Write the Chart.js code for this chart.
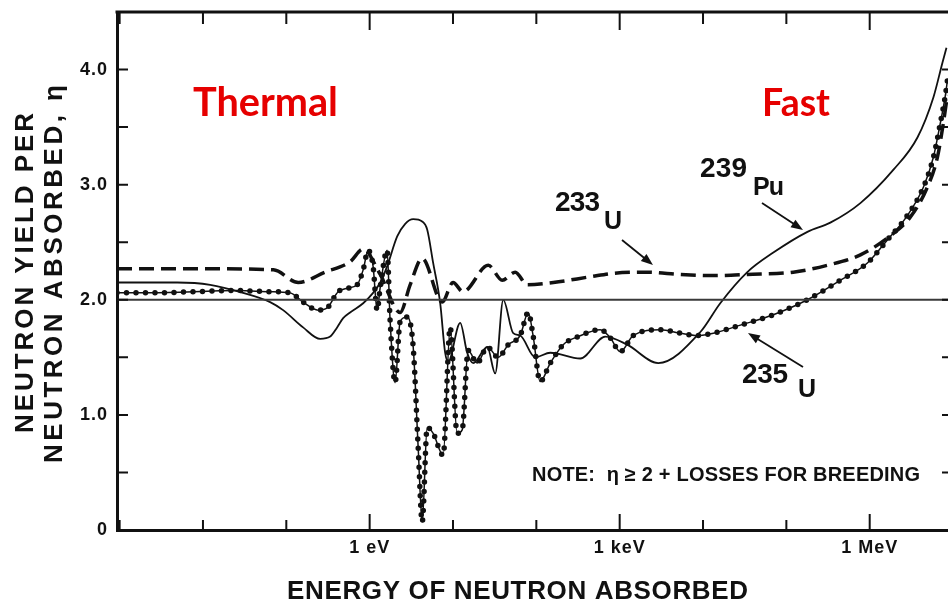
<!DOCTYPE html>
<html>
<head>
<meta charset="utf-8">
<script src="https://cdn.jsdelivr.net/npm/chart.js@4.4.1/dist/chart.umd.min.js"></script>
<style>
  html, body { margin: 0; padding: 0; background: #fff; overflow: hidden; }
  #wrap { position: relative; width: 948px; height: 608px; }
</style>
</head>
<body>
<div id="wrap"><canvas id="etaChart"></canvas></div>
<script>
(function () {
    // neutron energy in eV, eta = neutrons released per neutron absorbed
    var energyU233 = [9.3e-4, 9.2e-3, 0.070, 0.139, 0.292, 0.583, 0.836, 1.34, 2.32, 3.06, 4.27, 7.41, 10.0, 13.2,
        26.5, 39, 55.8, 77.8, 160, 444, 837, 2140, 5330, 13300, 34000, 121000, 310000, 773000,
        1.72e6, 3.08e6, 4.93e6, 6.5e6, 7.67e6, 8.57e6];
    var etaU233 = [2.27, 2.27, 2.26, 2.15, 2.24, 2.33, 2.44, 2.22, 1.89, 2.13, 2.36, 1.98, 2.15, 2.07,
        2.30, 2.17, 2.24, 2.13, 2.15, 2.20, 2.23, 2.24, 2.22, 2.21, 2.22, 2.24, 2.30, 2.39,
        2.55, 2.72, 2.98, 3.24, 3.54, 3.78];

    var energyPu239 = [9.3e-4, 4.9e-3, 0.0122, 0.0303, 0.064, 0.0916, 0.159, 0.255, 0.336, 0.407, 0.481, 0.583,
        0.836, 1.10, 1.34, 1.62, 2.14, 2.67, 3.33, 4.27, 4.90, 5.78, 7.02, 8.05, 8.75, 12.2, 14.8, 17.5,
        25.8, 32.1, 40.1, 52.8, 64.1, 97, 147, 337, 671, 1230, 2900, 9290, 16100, 34000, 69800,
        179000, 337000, 773000, 1.93e6, 3.74e6, 5.82e6, 7.46e6, 8.34e6];
    var etaPu239 = [2.15, 2.15, 2.13, 2.06, 1.98, 1.91, 1.76, 1.66, 1.68, 1.76, 1.84, 1.89,
        1.97, 2.06, 2.15, 2.29, 2.55, 2.66, 2.70, 2.68, 2.61, 2.32, 1.97, 1.54, 1.46, 1.80, 1.54, 1.45,
        1.59, 1.36, 2.00, 1.71, 1.69, 1.50, 1.54, 1.49, 1.68, 1.61, 1.45, 1.72, 1.97, 2.24, 2.41,
        2.59, 2.67, 2.84, 3.13, 3.41, 3.76, 4.06, 4.19];

    var energyU235 = [9.3e-4, 2.3e-3, 0.026, 0.064, 0.111, 0.159, 0.241, 0.309, 0.419, 0.537, 0.708, 0.836,
        0.959, 1.10, 1.23, 1.34, 1.62, 1.76, 2.02, 2.32, 2.82, 3.33, 3.82, 4.27, 4.90, 5.78, 7.62, 9.25,
        11.2, 12.9, 15.2, 19.5, 25.8, 34.9, 46.0, 64.1, 80.0, 91.8, 111, 147, 210, 318, 585, 771,
        1016, 1456, 3070, 5330, 8550, 13300, 28100, 69800, 179000, 445000, 938000, 1.63e6, 2.76e6,
        4.42e6, 5.82e6, 7.06e6, 8.11e6, 8.57e6];
    var etaU235 = [2.06, 2.06, 2.08, 2.07, 2.06, 1.98, 1.91, 1.93, 2.07, 2.10, 2.13, 2.26,
        2.43, 2.29, 1.91, 2.11, 2.43, 1.82, 1.28, 1.81, 1.85, 1.59, 0.72, 0.07, 0.89, 0.84, 0.65, 1.76,
        0.84, 0.87, 1.56, 1.45, 1.59, 1.50, 1.61, 1.69, 1.89, 1.68, 1.29, 1.45, 1.61, 1.68, 1.74, 1.67,
        1.55, 1.69, 1.74, 1.71, 1.69, 1.71, 1.78, 1.87, 2.00, 2.17, 2.32, 2.52, 2.72,
        2.98, 3.24, 3.54, 3.78, 3.91];

    var breedingEta = 2.0;
    var decadeTicks = [1e-3, 1e-2, 1e-1, 1, 10, 100, 1e3, 1e4, 1e5, 1e6];
    var namedTicks = [1, 1e3, 1e6];
    var namedTickLabels = ['1 eV', '1 keV', '1 MeV'];

    var energyMin = 9.3e-4, energyMax = 8.7e6;
    var helv = "'Liberation Sans', Arial, sans-serif";

    function points(xs, ys) {
        return xs.map(function (x, i) { return { x: x, y: ys[i] }; });
    }

    function spacedText(ctx, text, left, baseline, size, width, color) {
        ctx.font = 'bold ' + size + 'px ' + helv;
        ctx.letterSpacing = '0px';
        var natural = ctx.measureText(text).width;
        var n = Array.from(text).length;
        var gap = n > 1 ? (width - natural) / (n - 1) : 0;
        ctx.letterSpacing = gap + 'px';
        ctx.fillStyle = color || '#111';
        ctx.textAlign = 'left';
        ctx.textBaseline = 'alphabetic';
        ctx.fillText(text, left, baseline);
        ctx.letterSpacing = '0px';
    }

    function fitText(ctx, text, left, baseline, width, color) {
        var fam = "Lato, 'Open Sans', sans-serif";
        ctx.font = 'bold 40px ' + fam;
        var size = 40 * width / ctx.measureText(text).width;
        ctx.font = 'bold ' + size + 'px ' + fam;
        ctx.fillStyle = color;
        ctx.textAlign = 'left';
        ctx.textBaseline = 'alphabetic';
        ctx.fillText(text, left, baseline);
    }

    function arrow(ctx, x1, y1, x2, y2) {
        var a = Math.atan2(y2 - y1, x2 - x1);
        ctx.strokeStyle = '#111';
        ctx.fillStyle = '#111';
        ctx.lineWidth = 1.8;
        ctx.beginPath();
        ctx.moveTo(x1, y1);
        ctx.lineTo(x2 - 8 * Math.cos(a), y2 - 8 * Math.sin(a));
        ctx.stroke();
        ctx.beginPath();
        ctx.moveTo(x2, y2);
        ctx.lineTo(x2 - 12 * Math.cos(a) + 4.5 * Math.sin(a), y2 - 12 * Math.sin(a) - 4.5 * Math.cos(a));
        ctx.lineTo(x2 - 12 * Math.cos(a) - 4.5 * Math.sin(a), y2 - 12 * Math.sin(a) + 4.5 * Math.cos(a));
        ctx.closePath();
        ctx.fill();
    }

    var decor = {
        id: 'decor',
        beforeDraw: function (chart) { chart.ctx.letterSpacing = '1px'; },
        beforeDatasetsDraw: function (chart) { chart.ctx.letterSpacing = '0px'; },
        afterDraw: function (chart) {
            var ctx = chart.ctx;
            var area = chart.chartArea;
            var xs = chart.scales.x, ys = chart.scales.y;
            ctx.save();
            ctx.letterSpacing = '0px';
            ctx.strokeStyle = '#111';

            // top frame line
            ctx.lineWidth = 3;
            ctx.beginPath();
            ctx.moveTo(area.left - 1.5, area.top);
            ctx.lineTo(area.right, area.top);
            ctx.stroke();

            // inward tick marks
            ctx.lineWidth = 2;
            decadeTicks.forEach(function (v) {
                var px = xs.getPixelForValue(v);
                var major = namedTicks.indexOf(v) >= 0;
                ctx.beginPath();
                ctx.moveTo(px, area.bottom);
                ctx.lineTo(px, area.bottom - (major ? 16 : 10));
                ctx.moveTo(px, area.top);
                ctx.lineTo(px, area.top + (major ? 18 : 12));
                ctx.stroke();
            });
            for (var v = 0.5; v <= 4.0; v += 0.5) {
                var py = ys.getPixelForValue(v);
                ctx.beginPath();
                ctx.moveTo(area.left, py);
                ctx.lineTo(area.left + 11, py);
                ctx.moveTo(area.right, py);
                ctx.lineTo(area.right - 6, py);
                ctx.stroke();
            }

            // axis titles
            ctx.save();
            ctx.translate(33, 273);
            ctx.rotate(-Math.PI / 2);
            spacedText(ctx, 'NEUTRON YIELD PER', -160, 0, 26, 320);
            ctx.restore();
            ctx.save();
            ctx.translate(62, 274);
            ctx.rotate(-Math.PI / 2);
            spacedText(ctx, 'NEUTRON ABSORBED, η', -189, 0, 26, 378);
            ctx.restore();
            spacedText(ctx, 'ENERGY OF NEUTRON ABSORBED', 287, 599, 26, 461);

            // note and curve labels
            spacedText(ctx, 'NOTE:  η ≥ 2 + LOSSES FOR BREEDING', 532, 481, 20, 388);
            spacedText(ctx, '233', 555, 211, 28, 45);
            spacedText(ctx, 'U', 604, 229, 25, 18);
            spacedText(ctx, '239', 700, 177, 28, 47);
            spacedText(ctx, 'Pu', 753, 195, 25, 31);
            spacedText(ctx, '235', 742, 383, 28, 46);
            spacedText(ctx, 'U', 798, 397, 25, 17);
            arrow(ctx, 622, 240, 653, 265);
            arrow(ctx, 762, 203, 803, 230);
            arrow(ctx, 803, 367, 748, 333);

            fitText(ctx, 'Thermal', 193, 116, 145, '#e60000');
            fitText(ctx, 'Fast', 762, 116, 68, '#e60000');
            ctx.restore();
        }
    };

    var ctx = document.getElementById('etaChart').getContext('2d');
    new Chart(ctx, {
        type: 'line',
        data: {
            datasets: [
                {
                    label: 'eta = 2',
                    data: [{ x: energyMin, y: breedingEta }, { x: energyMax, y: breedingEta }],
                    borderColor: '#3a3a3a', borderWidth: 2, pointRadius: 0
                },
                {
                    label: '233U',
                    data: points(energyU233, etaU233),
                    borderColor: '#111', borderWidth: 3.5, borderDash: [15, 7],
                    pointRadius: 0, cubicInterpolationMode: 'monotone'
                },
                {
                    label: '239Pu',
                    data: points(energyPu239, etaPu239),
                    borderColor: '#111', borderWidth: 1.8,
                    pointRadius: 0, cubicInterpolationMode: 'monotone'
                },
                {
                    label: '235U',
                    data: points(energyU235, etaU235),
                    borderColor: '#111', borderWidth: 1.5,
                    pointRadius: 0, cubicInterpolationMode: 'monotone'
                },
                {
                    label: '235U beads',
                    data: points(energyU235, etaU235),
                    borderColor: '#111', borderWidth: 5.5, borderDash: [0, 9.5], borderCapStyle: 'round',
                    pointRadius: 0, cubicInterpolationMode: 'monotone'
                }
            ]
        },
        options: {
            responsive: true,
            maintainAspectRatio: false,
            animation: false,
            layout: { padding: { left: 0, top: 12, right: 0, bottom: 0 } },
            plugins: { legend: { display: false }, tooltip: { enabled: false } },
            scales: {
                x: {
                    type: 'logarithmic',
                    min: energyMin,
                    max: energyMax,
                    afterBuildTicks: function (scale) {
                        scale.ticks = decadeTicks.map(function (v) { return { value: v }; });
                    },
                    afterFit: function (scale) {
                        scale.height = 78;
                        scale.paddingLeft = 0;
                        scale.paddingRight = 0;
                    },
                    grid: { display: false, drawTicks: false },
                    border: { display: true, color: '#111', width: 3 },
                    ticks: {
                        autoSkip: false, maxRotation: 0, minRotation: 0, padding: 7,
                        color: '#111',
                        font: { family: helv, size: 18, weight: 'bold' },
                        callback: function (value) {
                            var i = namedTicks.indexOf(value);
                            return i >= 0 ? namedTickLabels[i] : '';
                        }
                    }
                },
                y: {
                    min: 0,
                    max: 4.5,
                    afterFit: function (scale) {
                        scale.width = 117;
                        scale.paddingTop = 0;
                        scale.paddingBottom = 0;
                    },
                    grid: { display: false, drawTicks: false },
                    border: { display: true, color: '#111', width: 3 },
                    ticks: {
                        stepSize: 0.5, padding: 9,
                        color: '#111',
                        font: { family: helv, size: 18, weight: 'bold' },
                        callback: function (value) {
                            if (value === 0) return '0';
                            return Number.isInteger(value) ? value.toFixed(1) : '';
                        }
                    }
                }
            }
        },
        plugins: [decor]
    });
})();
</script>
</body>
</html>
